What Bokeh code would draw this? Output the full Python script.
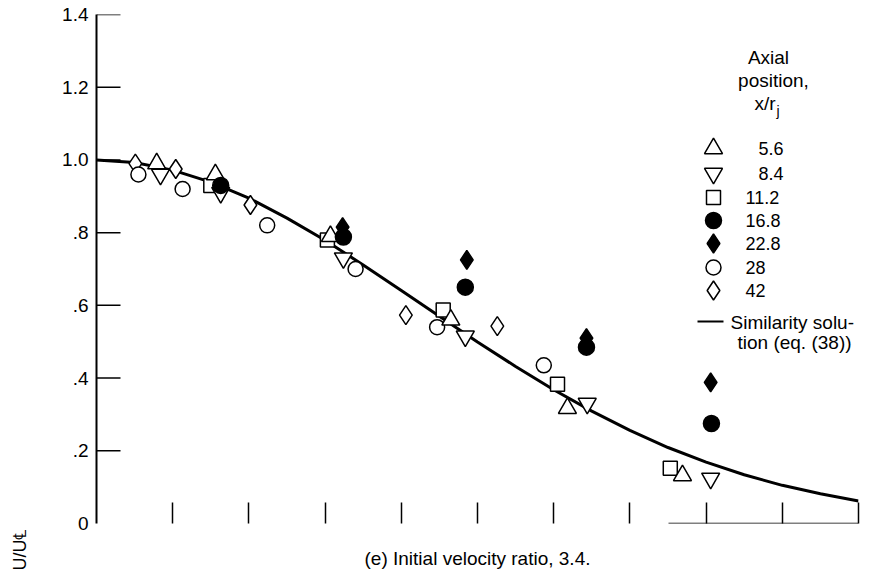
from bokeh.plotting import figure
from bokeh.layouts import row
from bokeh.models import Range1d, FixedTicker, Label, Title
from bokeh.embed import file_html
from bokeh.resources import INLINE

# ---------------- data ----------------
# Similarity solution (eq. (38))
curve_x = [0.0, 0.5, 1.0, 1.5, 2.0, 2.5, 3.0, 3.5, 4.0, 4.5, 5.0,
           5.5, 6.0, 6.5, 7.0, 7.5, 8.0, 8.5, 9.0, 9.5, 10.0]
curve_y = [1.000, 0.993, 0.972, 0.939, 0.895, 0.840, 0.779, 0.711, 0.641, 0.570, 0.499,
           0.432, 0.368, 0.309, 0.256, 0.209, 0.169, 0.134, 0.105, 0.082, 0.062]

# Axial position x/r_j
s56_x = [0.79, 1.56, 3.07, 4.65, 6.18, 7.69]
s56_y = [0.99, 0.96, 0.79, 0.56, 0.317, 0.132]
s84_x = [0.84, 1.63, 3.24, 4.84, 6.44, 8.06]
s84_y = [0.96, 0.91, 0.73, 0.515, 0.33, 0.124]
s112_x = [1.50, 3.03, 4.55, 6.05, 7.53]
s112_y = [0.93, 0.78, 0.587, 0.383, 0.152]
s168_x = [1.63, 3.24, 4.84, 6.43, 8.07]
s168_y = [0.93, 0.788, 0.65, 0.485, 0.275]
s228_x = [3.23, 4.86, 6.43, 8.06]
s228_y = [0.815, 0.725, 0.51, 0.388]
s28_x = [0.55, 1.13, 2.24, 3.40, 4.47, 5.87]
s28_y = [0.96, 0.92, 0.82, 0.70, 0.54, 0.435]
s42_x = [0.51, 1.04, 2.02, 4.06, 5.26]
s42_y = [0.99, 0.975, 0.876, 0.573, 0.543]

series_labels = ["5.6", "8.4", "11.2", "16.8", "22.8", "28", "42"]
y_ticks = [0.0, 0.2, 0.4, 0.6, 0.8, 1.0, 1.2, 1.4]
y_tick_labels = ["0", ".2", ".4", ".6", ".8", "1.0", "1.2", "1.4"]
x_ticks = [1, 2, 3, 4, 5, 6, 7, 8, 9, 10]

# ---------------- layout / style ----------------
W, H = 869, 571
SIDE_W = 44                               # narrow strip holding the y title
FX0, FX1, FY0, FY1 = 96, 858, 523, 14     # frame edges in page px
XMIN, XMAX, YMIN, YMAX = 0.0, 10.0, 0.0, 1.4


def dx(px):
    return XMIN + (px - FX0) * (XMAX - XMIN) / (FX1 - FX0)


def dy(py):
    return YMIN + (FY0 - py) * (YMAX - YMIN) / (FY0 - FY1)


FONT = "Liberation Sans"
INK = "black"

# ---- side strip with the rotated y-axis title ----
side = figure(width=SIDE_W, height=H, output_backend="svg", toolbar_location=None,
              x_range=Range1d(0, 1), y_range=Range1d(0, 1),
              x_axis_location=None, y_axis_location=None,
              min_border_left=0, min_border_right=0,
              min_border_top=FY1, min_border_bottom=H - FY0)
side.outline_line_color = None
side.xgrid.visible = False
side.ygrid.visible = False
side.background_fill_color = "white"
side.border_fill_color = "white"
side.add_layout(Title(text="U/U\u2104", align="left", offset=-(H - 1 - FY0), standoff=14,
                      text_font=FONT, text_font_size="18px", text_font_style="normal",
                      text_color=INK), "left")

# ---- main chart ----
p = figure(width=W - SIDE_W, height=H, output_backend="svg", toolbar_location=None,
           x_range=Range1d(XMIN, XMAX), y_range=Range1d(YMIN, YMAX),
           min_border_left=FX0 - SIDE_W, min_border_right=W - FX1,
           min_border_top=FY1, min_border_bottom=H - FY0)
p.outline_line_color = None
p.xgrid.visible = False
p.ygrid.visible = False
p.background_fill_color = "white"
p.border_fill_color = "white"

# y axis (labels from the axis, inward tick marks drawn below except at 0)
ya = p.yaxis[0]
ya.ticker = FixedTicker(ticks=y_ticks)
ya.major_label_overrides = {t: l for t, l in zip(y_ticks, y_tick_labels)}
ya.axis_line_width = 2
ya.axis_line_color = INK
ya.major_tick_in = 0
ya.major_tick_out = 0
ya.major_tick_line_color = None
ya.minor_tick_line_color = None
ya.major_label_standoff = 8
ya.major_label_text_font = FONT
ya.major_label_text_font_size = "19px"
ya.major_label_text_color = INK

inner_ticks = y_ticks[1:]
p.segment(x0=[XMIN] * len(inner_ticks), y0=inner_ticks,
          x1=[dx(120)] * len(inner_ticks), y1=inner_ticks,
          line_color=INK, line_width=1.5)

# x axis: tick marks only, caption as its title
xa = p.xaxis[0]
xa.ticker = FixedTicker(ticks=x_ticks)
xa.major_label_overrides = {t: "" for t in x_ticks}
xa.axis_line_color = None
xa.major_tick_in = 21
xa.major_tick_out = 0
xa.major_tick_line_width = 1.5
xa.major_tick_line_color = INK
xa.minor_tick_line_color = None
xa.major_label_text_font_size = "1px"
xa.major_label_standoff = 0
xa.axis_label = "(e) Initial velocity ratio, 3.4."
xa.axis_label_text_font = FONT
xa.axis_label_text_font_size = "19px"
xa.axis_label_text_font_style = "normal"
xa.axis_label_text_color = INK
xa.axis_label_standoff = 24

# partial baseline at lower right
p.line([dx(668), XMAX], [YMIN, YMIN], line_color=INK, line_width=1.5)

# similarity curve
p.line(curve_x, curve_y, line_color=INK, line_width=3)

# markers
styles = [
    ("triangle", False, 18),
    ("inverted_triangle", False, 18),
    ("square", False, 14),
    ("circle", True, 16),
    ("diamond", True, 19),
    ("circle", False, 15),
    ("diamond", False, 19),
]
data = [(s56_x, s56_y), (s84_x, s84_y), (s112_x, s112_y), (s168_x, s168_y),
        (s228_x, s228_y), (s28_x, s28_y), (s42_x, s42_y)]
draw_order = [6, 5, 2, 0, 1, 3, 4]
for i in draw_order:
    m, filled, sz = styles[i]
    xs, ys = data[i]
    p.scatter(xs, ys, marker=m, size=sz, line_color=INK, line_width=1.5,
              fill_color=INK if filled else "white")

# legend (drawn manually)
row_py = [148, 173, 197, 220, 243, 267, 290]
mk_px = 713
for i, lab in enumerate(series_labels):
    m, filled, sz = styles[i]
    p.scatter([dx(mk_px)], [dy(row_py[i])], marker=m, size=sz, line_color=INK,
              line_width=1.5, fill_color=INK if filled else "white")
    tx = 758 if i < 2 else 745
    p.add_layout(Label(x=dx(tx), y=dy(row_py[i]), text=lab, text_font=FONT,
                       text_font_size="18px", text_color=INK,
                       text_align="left", text_baseline="middle"))

p.line([dx(697), dx(723)], [dy(321), dy(321)], line_color=INK, line_width=2)
p.add_layout(Label(x=dx(730), y=dy(322), text="Similarity solu-", text_font=FONT,
                   text_font_size="19px", text_color=INK,
                   text_align="left", text_baseline="middle"))
p.add_layout(Label(x=dx(737), y=dy(342), text="tion (eq. (38))", text_font=FONT,
                   text_font_size="19px", text_color=INK,
                   text_align="left", text_baseline="middle"))

# legend title
for txt, cx, cy in [("Axial", 768, 57), ("position,", 773, 80)]:
    p.add_layout(Label(x=dx(cx), y=dy(cy), text=txt, text_font=FONT,
                       text_font_size="19px", text_color=INK,
                       text_align="center", text_baseline="middle"))
p.add_layout(Label(x=dx(775), y=dy(103), text="x/r", text_font=FONT,
                   text_font_size="19px", text_color=INK,
                   text_align="right", text_baseline="middle"))
p.add_layout(Label(x=dx(776), y=dy(110), text="j", text_font=FONT,
                   text_font_size="14px", text_color=INK,
                   text_align="left", text_baseline="middle"))

layout = row(side, p, spacing=0)
open("out.html", "w").write(file_html(layout, INLINE))
